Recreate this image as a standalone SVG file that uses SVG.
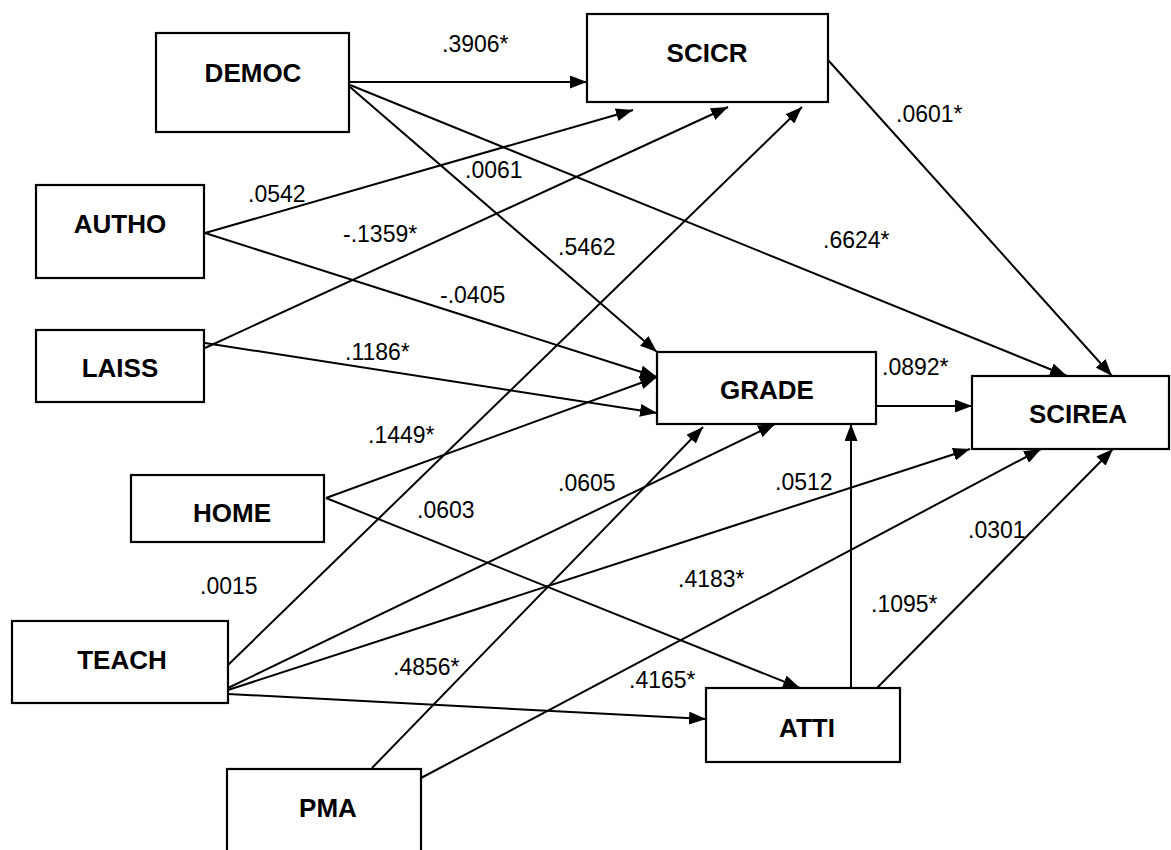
<svg xmlns="http://www.w3.org/2000/svg" width="1171" height="850" viewBox="0 0 1171 850">
<style>
.box{fill:#fff;stroke:#000;stroke-width:2.2}
.nt{font-family:"Liberation Sans",Arial,sans-serif;font-weight:bold;font-size:26px;text-anchor:middle;fill:#000}
.lb{font-family:"Liberation Sans",Arial,sans-serif;font-size:23px;fill:#000}
.c line{stroke:#000;stroke-width:2;fill:none}
.c line.a{marker-end:url(#ah)}
</style>
<defs>
<marker id="ah" markerUnits="userSpaceOnUse" markerWidth="17" markerHeight="13" refX="17" refY="6.5" orient="auto">
<path d="M0,0 L17,6.5 L0,13 z" fill="#000"/>
</marker>
</defs>
<rect width="1171" height="850" fill="#fff"/>
<g class="c" id="connectors">
<line class="a" x1="349" y1="82" x2="587" y2="82"/>
<line class="a" x1="350" y1="85" x2="1067" y2="376"/>
<line class="a" x1="350" y1="87" x2="657" y2="352"/>
<line class="a" x1="828" y1="60" x2="1112" y2="376"/>
<line class="a" x1="205" y1="233" x2="633" y2="110"/>
<line class="a" x1="205" y1="233" x2="657" y2="377"/>
<line class="a" x1="205" y1="348" x2="728" y2="107"/>
<line class="a" x1="205" y1="343" x2="657" y2="413"/>
<line class="a" x1="326" y1="498" x2="657" y2="377"/>
<line class="a" x1="326" y1="498" x2="800" y2="688"/>
<line class="a" x1="228" y1="665" x2="802" y2="107"/>
<line class="a" x1="228" y1="688" x2="775" y2="424"/>
<line class="a" x1="228" y1="690" x2="970" y2="449"/>
<line class="a" x1="228" y1="694" x2="706" y2="719"/>
<line class="a" x1="372" y1="768" x2="703" y2="427"/>
<line class="a" x1="421" y1="778" x2="1041" y2="449"/>
<line class="a" x1="876" y1="406" x2="972" y2="406"/>
<line class="a" x1="851" y1="688" x2="851" y2="424"/>
<line class="a" x1="877" y1="688" x2="1113" y2="449"/>
</g>
<g id="DEMOC"><rect class="box" x="156" y="33" width="193" height="99"/><text class="nt" x="253" y="82">DEMOC</text></g>
<g id="SCICR"><rect class="box" x="587" y="14" width="241" height="88"/><text class="nt" x="707" y="62">SCICR</text></g>
<g id="AUTHO"><rect class="box" x="36" y="185" width="168" height="93"/><text class="nt" x="120" y="233">AUTHO</text></g>
<g id="LAISS"><rect class="box" x="36" y="330" width="168" height="72"/><text class="nt" x="120" y="377">LAISS</text></g>
<g id="HOME"><rect class="box" x="131" y="475" width="193" height="67"/><text class="nt" x="232" y="522">HOME</text></g>
<g id="TEACH"><rect class="box" x="12" y="621" width="216" height="82"/><text class="nt" x="122" y="669">TEACH</text></g>
<g id="PMA"><rect class="box" x="227" y="769" width="194" height="90"/><text class="nt" x="328" y="817">PMA</text></g>
<g id="GRADE"><rect class="box" x="657" y="352" width="219" height="72"/><text class="nt" x="767" y="399">GRADE</text></g>
<g id="ATTI"><rect class="box" x="706" y="688" width="194" height="74"/><text class="nt" x="807" y="737">ATTI</text></g>
<g id="SCIREA"><rect class="box" x="972" y="376" width="197" height="73"/><text class="nt" x="1078" y="423">SCIREA</text></g>
<g id="labels">
<text class="lb" x="442" y="52">.3906*</text>
<text class="lb" x="896" y="122">.0601*</text>
<text class="lb" x="248" y="202">.0542</text>
<text class="lb" x="465" y="178">.0061</text>
<text class="lb" x="343" y="242">-.1359*</text>
<text class="lb" x="558" y="255">.5462</text>
<text class="lb" x="823" y="248">.6624*</text>
<text class="lb" x="440" y="303">-.0405</text>
<text class="lb" x="345" y="360">.1186*</text>
<text class="lb" x="368" y="443">.1449*</text>
<text class="lb" x="882" y="375">.0892*</text>
<text class="lb" x="558" y="491">.0605</text>
<text class="lb" x="417" y="518">.0603</text>
<text class="lb" x="775" y="490">.0512</text>
<text class="lb" x="200" y="594">.0015</text>
<text class="lb" x="678" y="587">.4183*</text>
<text class="lb" x="968" y="538">.0301</text>
<text class="lb" x="871" y="612">.1095*</text>
<text class="lb" x="393" y="675">.4856*</text>
<text class="lb" x="629" y="688">.4165*</text>
</g>
</svg>
